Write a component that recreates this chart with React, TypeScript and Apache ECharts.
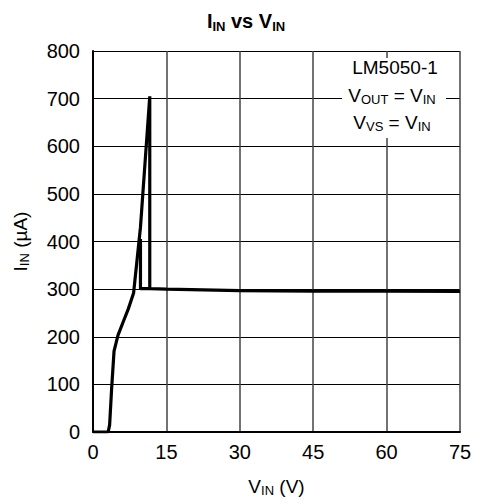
import React, { useEffect, useRef } from "react";
import * as echarts from "echarts";

const xTicks = [0, 15, 30, 45, 60, 75];
const yTicks = [0, 100, 200, 300, 400, 500, 600, 700, 800];

// Sweep-up trace: V_IN (V), I_IN (µA)
const sweepUpV = [0, 3.1, 3.4, 3.8, 4.3, 5.1, 6.2, 7.2, 8.3, 9.7, 11.6, 11.6, 15, 30, 45, 60, 75];
const sweepUpI = [0, 0, 15, 90, 170, 203, 232, 258, 292, 430, 705, 301, 300, 297, 296, 296, 295];

// Sweep-down trace (hysteresis step)
const sweepDownV = [11.6, 9.7, 9.7];
const sweepDownI = [301, 301, 405];

const FONT = "'Liberation Sans', Arial, sans-serif";
const FS = 19;
const SUB = 13;

const richText = (color: string) => ({
  a: { fontFamily: FONT, fontSize: FS, color, lineHeight: 22 },
  s: { fontFamily: FONT, fontSize: SUB, color, lineHeight: 22, padding: [9, 0, 0, 0] },
});

export default function App() {
  const ref = useRef<HTMLDivElement>(null);
  useEffect(() => {
    if (!ref.current) return;
    const chart = echarts.init(ref.current, null, { renderer: "svg" });
    const up = sweepUpV.map((v, i) => [v, sweepUpI[i]]);
    const down = sweepDownV.map((v, i) => [v, sweepDownI[i]]);
    chart.setOption({
      animation: false,
      backgroundColor: "#fff",
      textStyle: { fontFamily: FONT, color: "#000" },
      title: {
        text: "{a|I}{s|IN}{a| vs V}{s|IN}",
        left: 241,
        textAlign: "center",
        top: 4,
        textStyle: {
          rich: {
            a: { fontFamily: FONT, fontSize: 20, fontWeight: "bold", color: "#000", lineHeight: 24 },
            s: { fontFamily: FONT, fontSize: 13, fontWeight: "bold", color: "#000", lineHeight: 24, padding: [10, 0, 0, 0] },
          },
        },
      },
      grid: { left: 93, right: 22, top: 51, bottom: 72, containLabel: false },
      xAxis: {
        type: "value",
        min: xTicks[0],
        max: xTicks[xTicks.length - 1],
        interval: 15,
        name: "{a|V}{s|IN}{a| (V)}",
        nameLocation: "middle",
        nameGap: 43,
        nameTextStyle: { rich: richText("#000") },
        axisLine: { show: true, onZero: false, lineStyle: { color: "#000", width: 2 } },
        axisTick: { show: false },
        axisLabel: { color: "#000", fontSize: 20, fontFamily: FONT, margin: 10 },
        splitLine: { show: true, lineStyle: { color: "#444", width: 1.5 } },
      },
      yAxis: {
        type: "value",
        min: yTicks[0],
        max: yTicks[yTicks.length - 1],
        interval: 100,
        name: "{a|I}{s|IN}{a| (µA)}",
        nameLocation: "middle",
        nameRotate: 90,
        nameGap: 62,
        nameTextStyle: { rich: richText("#000") },
        axisLine: { show: true, onZero: false, lineStyle: { color: "#000", width: 2 } },
        axisTick: { show: false },
        axisLabel: { color: "#000", fontSize: 20, fontFamily: FONT, margin: 13 },
        splitLine: { show: true, lineStyle: { color: "#000", width: 1.2 } },
      },
      series: [
        {
          type: "line",
          data: up,
          showSymbol: false,
          lineStyle: { color: "#000", width: 3.2 },
          z: 3,
        },
        {
          type: "line",
          data: down,
          showSymbol: false,
          lineStyle: { color: "#000", width: 3.2 },
          z: 3,
        },
      ],
      graphic: [
        {
          type: "rect",
          shape: { x: 342, y: 58, width: 104, height: 80 },
          style: { fill: "#fff" },
          z: 10,
        },
        {
          type: "text",
          x: 395,
          y: 67,
          z: 11,
          style: {
            text: "LM5050-1",
            fontFamily: FONT,
            fontSize: FS,
            fill: "#000",
            align: "center",
            verticalAlign: "middle",
          },
        },
        {
          type: "text",
          x: 392,
          y: 95,
          z: 11,
          style: {
            text: "{a|V}{s|OUT}{a| = V}{s|IN}",
            fontFamily: FONT,
            align: "center",
            verticalAlign: "middle",
            rich: {
              a: { fontFamily: FONT, fontSize: FS, fill: "#000", lineHeight: 22 },
              s: { fontFamily: FONT, fontSize: SUB, fill: "#000", lineHeight: 22, padding: [9, 0, 0, 0] },
            },
          },
        },
        {
          type: "text",
          x: 392,
          y: 122,
          z: 11,
          style: {
            text: "{a|V}{s|VS}{a| = V}{s|IN}",
            fontFamily: FONT,
            align: "center",
            verticalAlign: "middle",
            rich: {
              a: { fontFamily: FONT, fontSize: FS, fill: "#000", lineHeight: 22 },
              s: { fontFamily: FONT, fontSize: SUB, fill: "#000", lineHeight: 22, padding: [9, 0, 0, 0] },
            },
          },
        },
      ],
    });
    return () => chart.dispose();
  }, []);
  return <div ref={ref} style={{ width: 482, height: 504, position: "absolute", left: 0, top: 0 }} />;
}
